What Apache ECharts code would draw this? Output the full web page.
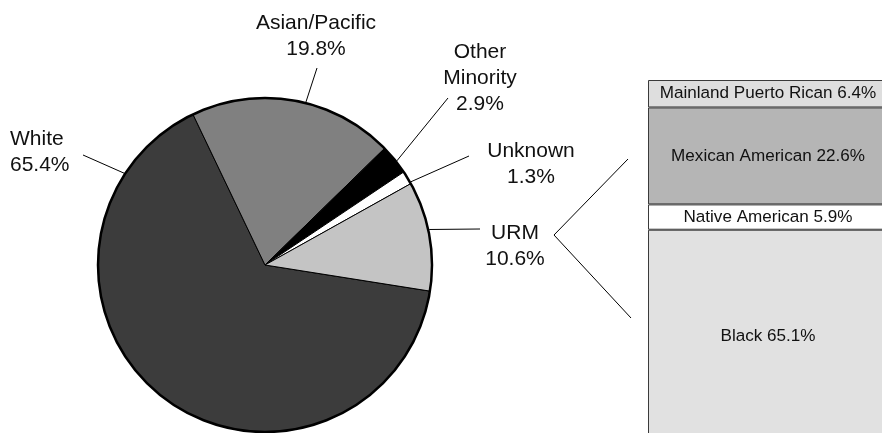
<!DOCTYPE html>
<html>
<head>
<meta charset="utf-8">
<title>Enrollment by ethnicity</title>
<script src="https://cdn.jsdelivr.net/npm/echarts@6/dist/echarts.min.js"></script>
<style>
  html, body { margin: 0; padding: 0; background: #fff; }
  #chart { width: 882px; height: 433px; }
</style>
</head>
<body>
<div id="chart"></div>
<script>
// Overall composition (percent)
const categories = ['White', 'Asian/Pacific', 'Other Minority', 'Unknown', 'URM'];
const shares = [65.4, 19.8, 2.9, 1.3, 10.6];

// Breakdown of the URM group (percent of URM)
const urmGroups = ['Mainland Puerto Rican', 'Mexican American', 'Native American', 'Black'];
const urmShares = [6.4, 22.6, 5.9, 65.1];

// Styling
const pieColors = ['#3c3c3c', '#808080', '#000000', '#ffffff', '#c4c4c4'];
const barColors = ['#dedede', '#b5b5b5', '#ffffff', '#e1e1e1'];
const PIE_CENTER = [265, 265];
const PIE_R = 167;

// Where each pie label sits and where its leader line starts / meets the rim
const pieLabelPlacement = {
  'White':          { x: 10,  y: 152, align: 'left',   tail: [83, 155],  rimDeg: 146.9 },
  'Asian/Pacific':  { x: 316, y: 36,  align: 'center', tail: [317, 68],  rimDeg: 75.9 },
  'Other Minority': { x: 480, y: 78,  align: 'center', tail: [448, 98],  rimDeg: 38.3 },
  'Unknown':        { x: 531, y: 164, align: 'center', tail: [469, 156], rimDeg: 29.7 },
  'URM':            { x: 515, y: 246, align: 'center', tail: [480, 229], rimDeg: 12.2 }
};

const chart = echarts.init(document.getElementById('chart'), null, { renderer: 'canvas' });

const barSeries = urmGroups.map(function (name, i) {
  const isLast = i === urmGroups.length - 1;
  return {
    type: 'bar',
    name: name,
    stack: 'urm',
    xAxisIndex: 0,
    yAxisIndex: 0,
    barWidth: '100%',
    silent: true,
    data: [urmShares[i]],
    itemStyle: { color: barColors[i], borderColor: '#3a3a3a', borderWidth: 1 },
    label: {
      show: true,
      position: isLast ? ['50%', 107] : 'inside',
      align: 'center',
      verticalAlign: 'middle',
      formatter: '{a} {c}%',
      color: '#111',
      fontFamily: '"Liberation Sans", Arial, sans-serif',
      fontSize: 17.1
    }
  };
});

const option = {
  animation: false,
  backgroundColor: '#ffffff',
  grid: { left: 648, right: -6, top: 80, height: 429, outerBoundsMode: 'none', containLabel: false },
  xAxis: { type: 'category', data: ['URM'], show: false },
  yAxis: { type: 'value', min: 0, max: 100, inverse: true, show: false },
  series: [
    {
      type: 'pie',
      center: PIE_CENTER,
      radius: PIE_R,
      startAngle: -9,
      clockwise: true,
      avoidLabelOverlap: false,
      silent: true,
      data: categories.map(function (name, i) {
        return { name: name, value: shares[i], itemStyle: { color: pieColors[i] } };
      }),
      itemStyle: { borderColor: '#000', borderWidth: 1 },
      label: {
        show: true,
        position: 'outside',
        formatter: function (p) { return p.name.replace(' ', '\n') + '\n' + p.value + '%'; },
        color: '#111',
        fontFamily: '"Liberation Sans", Arial, sans-serif',
        fontSize: 21,
        lineHeight: 26
      },
      labelLine: { show: true, length: 10, length2: 10, lineStyle: { color: '#000', width: 1 } },
      labelLayout: function (params) {
        const p = pieLabelPlacement[categories[params.dataIndex]];
        const a = p.rimDeg * Math.PI / 180;
        const rim = [PIE_CENTER[0] + (PIE_R + 1) * Math.cos(a), PIE_CENTER[1] - (PIE_R + 1) * Math.sin(a)];
        return {
          x: p.x,
          y: p.y,
          align: p.align,
          verticalAlign: 'middle',
          labelLinePoints: [rim, p.tail]
        };
      },
      z: 2
    },
    {
      // heavy outline around the whole pie
      type: 'pie',
      center: PIE_CENTER,
      radius: PIE_R,
      silent: true,
      label: { show: false },
      labelLine: { show: false },
      data: [{ value: 1, name: 'outline' }],
      itemStyle: { color: 'rgba(0,0,0,0)', borderColor: '#000', borderWidth: 2.5 },
      z: 3
    }
  ].concat(barSeries),
  graphic: [
    {
      // bracket linking the URM slice to its breakdown
      type: 'polyline',
      shape: { points: [[628, 159], [554, 235], [631, 318]] },
      style: { stroke: '#000', lineWidth: 1, fill: null },
      silent: true
    }
  ]
};

chart.setOption(option);
</script>
</body>
</html>
